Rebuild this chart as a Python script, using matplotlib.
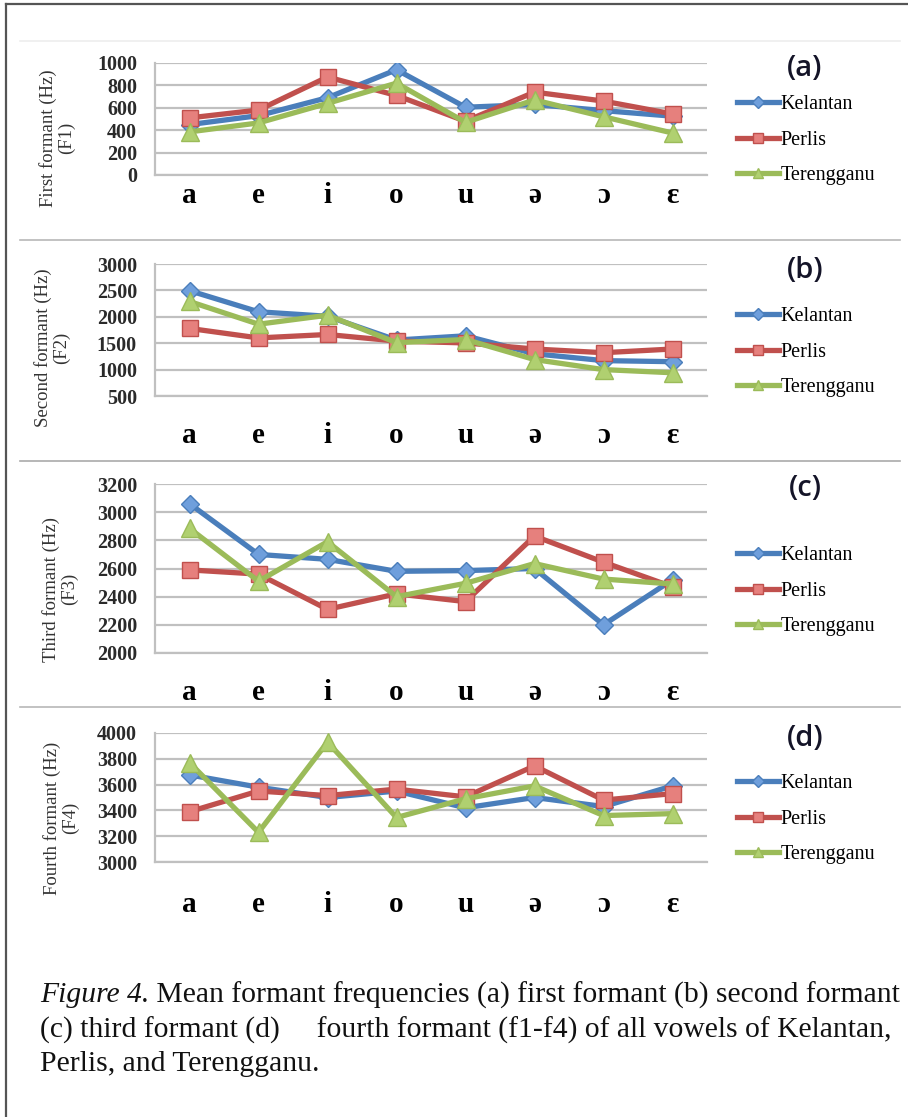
import matplotlib
matplotlib.use('Agg')
from matplotlib import pyplot as plt
from matplotlib.lines import Line2D

vowels = ['a', 'e', 'i', 'o', 'u', 'ə', 'ɔ', 'ε']
regions = ['Kelantan', 'Perlis', 'Terengganu']

# F1 (Hz)
f1_kelantan = [450, 530, 690, 940, 605, 630, 575, 525]
f1_perlis = [510, 580, 875, 710, 480, 740, 660, 545]
f1_terengganu = [385, 465, 640, 820, 470, 670, 520, 375]
f1_ticks = [0, 200, 400, 600, 800, 1000]

# F2 (Hz)
f2_kelantan = [2495, 2095, 2010, 1560, 1640, 1300, 1170, 1150]
f2_perlis = [1780, 1600, 1665, 1540, 1505, 1390, 1320, 1390]
f2_terengganu = [2290, 1860, 2030, 1510, 1570, 1190, 1000, 940]
f2_ticks = [500, 1000, 1500, 2000, 2500, 3000]

# F3 (Hz)
f3_kelantan = [3060, 2700, 2665, 2580, 2585, 2600, 2200, 2520]
f3_perlis = [2590, 2560, 2310, 2420, 2365, 2830, 2645, 2470]
f3_terengganu = [2885, 2510, 2790, 2400, 2495, 2635, 2525, 2490]
f3_ticks = [2000, 2200, 2400, 2600, 2800, 3000, 3200]

# F4 (Hz)
f4_kelantan = [3675, 3580, 3500, 3550, 3420, 3500, 3430, 3590]
f4_perlis = [3390, 3550, 3515, 3565, 3505, 3745, 3480, 3530]
f4_terengganu = [3770, 3230, 3930, 3345, 3490, 3590, 3360, 3375]
f4_ticks = [3000, 3200, 3400, 3600, 3800, 4000]

panel_letters = ['(a)', '(b)', '(c)', '(d)']
ylabels = ['First formant (Hz)\n(F1)', 'Second formant (Hz)\n(F2)',
           'Third formant (Hz)\n(F3)', 'Fourth formant (Hz)\n(F4)']

panels = [
    (f1_kelantan, f1_perlis, f1_terengganu, f1_ticks),
    (f2_kelantan, f2_perlis, f2_terengganu, f2_ticks),
    (f3_kelantan, f3_perlis, f3_terengganu, f3_ticks),
    (f4_kelantan, f4_perlis, f4_terengganu, f4_ticks),
]

W, H = 908, 1117
SERIF = ['Liberation Serif', 'DejaVu Serif']

# layout in pixels: plot top, plot bottom, xtick pad, ylabel x/y, legend mid y, letter y, separator y
layout = [
    dict(top=63, bot=175, pad=5, lx=57, ly=138, leg=140, let=68, sep=41, sepc='#eeeeee'),
    dict(top=264, bot=396, pad=19, lx=52, ly=348, leg=352, let=270, sep=240, sepc='#b8b8b8'),
    dict(top=484, bot=653, pad=19, lx=60, ly=589, leg=591, let=488, sep=461, sepc='#aaaaaa'),
    dict(top=733, bot=862, pad=21, lx=61, ly=818, leg=819, let=738, sep=707, sepc='#b8b8b8'),
]

styles = [
    dict(color='#4a7ebb', marker='D', mfc='#6f9fdc', mec='#4a7ebb', ms=9.5),
    dict(color='#c0504d', marker='s', mfc='#e6807d', mec='#c0504d', ms=12),
    dict(color='#9bbb59', marker='^', mfc='#b0d070', mec='#9bbb59', ms=12.5),
]

fig = plt.figure(figsize=(W / 100, H / 100), dpi=100)

# outer frame
fig.add_artist(Line2D([6 / W, 6 / W], [0, 1 - 4 / H], color='#555555', lw=1.6))
fig.add_artist(Line2D([6 / W, 1], [1 - 4 / H, 1 - 4 / H], color='#555555', lw=1.6))

left, right = 155 / W, 707 / W
for (kel, per, ter, ticks), lay, letter, ylab in zip(panels, layout, panel_letters, ylabels):
    fig.add_artist(Line2D([20 / W, 900 / W], [1 - lay['sep'] / H] * 2, color=lay['sepc'], lw=1.2))
    ax = fig.add_axes([left, 1 - lay['bot'] / H, right - left, (lay['bot'] - lay['top']) / H])
    x = range(len(vowels))
    for series, name, st in zip([kel, per, ter], regions, styles):
        ax.plot(x, series, color=st['color'], lw=3.8, marker=st['marker'], ms=st['ms'],
                mfc=st['mfc'], mec=st['mec'], mew=1.0, label=name, zorder=3)
    ax.set_xlim(-0.5, len(vowels) - 0.5)
    ax.set_ylim(ticks[0], ticks[-1])
    ax.set_yticks(ticks)
    ax.set_xticks(list(x))
    ax.set_xticklabels(vowels, fontsize=21, fontweight='bold', family=SERIF)
    ax.set_yticklabels([str(t) for t in ticks], fontsize=14.5, fontweight='bold', family=SERIF,
                       color='#2a2a2a')
    ax.tick_params(axis='both', length=0)
    ax.tick_params(axis='x', pad=lay['pad'])
    ax.tick_params(axis='y', pad=13)
    ax.yaxis.grid(True, color='#c0c0c0', lw=1.6)
    ax.set_axisbelow(True)
    for s in ['top', 'right']:
        ax.spines[s].set_visible(False)
    ax.spines['left'].set_color('#c0c0c0')
    ax.spines['bottom'].set_color('#c0c0c0')
    ax.spines['left'].set_linewidth(1.6)
    ax.spines['bottom'].set_linewidth(1.6)

    fig.text(lay['lx'] / W, 1 - lay['ly'] / H, ylab, rotation=90, ha='center', va='center',
             fontsize=13.5, family=SERIF, color='#333333', linespacing=1.1, multialignment='center')
    fig.text(805 / W, 1 - lay['let'] / H, letter, ha='center', va='center', fontsize=21,
             fontweight='semibold', family=['Open Sans', 'DejaVu Sans'], color='#141428')
    ax.legend(loc='center left', bbox_to_anchor=(737 / W, 1 - lay['leg'] / H),
              bbox_transform=fig.transFigure, frameon=False, handlelength=2.1,
              handletextpad=0.05, labelspacing=0.8, borderpad=0, borderaxespad=0,
              prop={'family': SERIF, 'size': 14.5}, markerscale=0.6)

caption = [
    ('Figure 4.', ' Mean formant frequencies (a) first formant (b) second formant'),
    ('', '(c) third formant (d)     fourth formant (f1-f4) of all vowels of Kelantan,'),
    ('', 'Perlis, and Terengganu.'),
]
cap_y = [995, 1030, 1064]
for (ital, rest), cy in zip(caption, cap_y):
    xpos = 40 / W
    if ital:
        t = fig.text(xpos, 1 - cy / H, ital, fontsize=21.3, family=SERIF, style='italic',
                     va='center', ha='left', color='#111111')
        fig.canvas.draw()
        bb = t.get_window_extent()
        xpos = bb.x1 / W
    fig.text(xpos, 1 - cy / H, rest, fontsize=21.3, family=SERIF, va='center', ha='left',
             color='#111111')

fig.savefig('out.png', dpi=100)
